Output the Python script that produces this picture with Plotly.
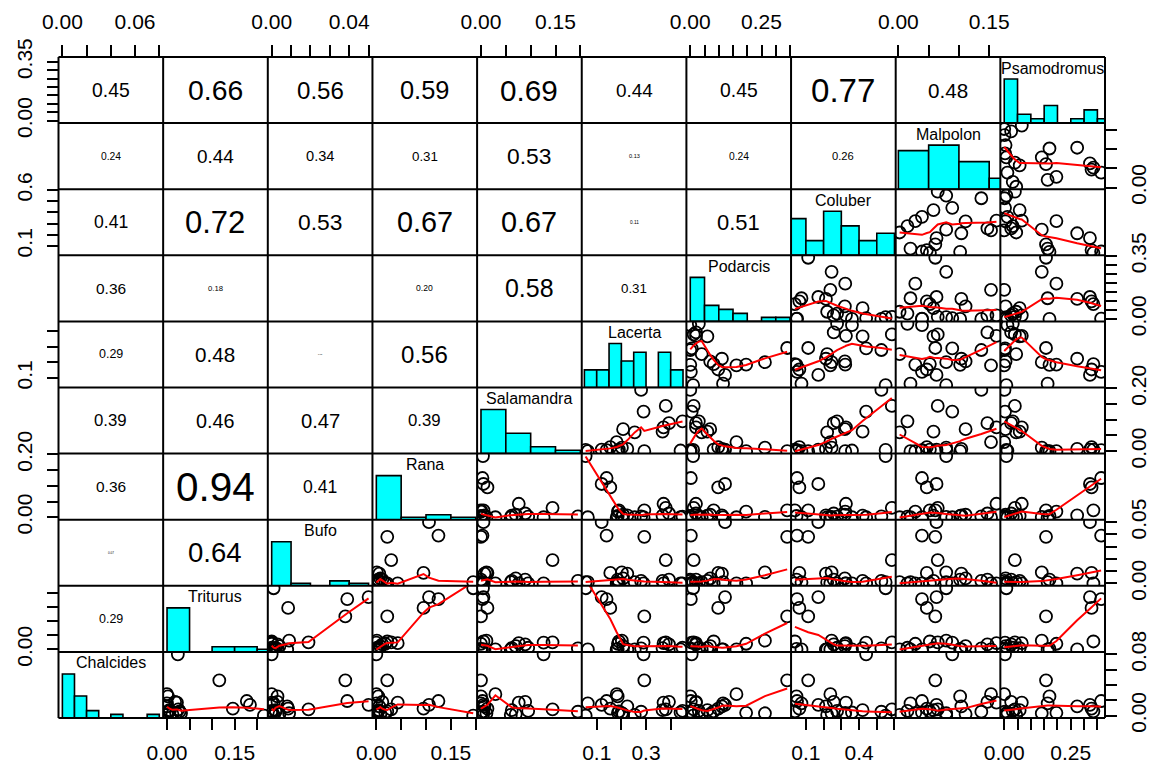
import numpy as np
import plotly.graph_objects as go

# ---------------- data (22 sites) ----------------
names = ["Chalcides", "Triturus", "Bufo", "Rana", "Salamandra",
         "Lacerta", "Podarcis", "Coluber", "Malpolon", "Psamodromus"]

chalcides = [0.028, 0.005, 0.080, 0.002, 0.000, 0.004, 0.018, 0.006, 0.008, 0.001, 0.007,
             0.017, 0.003, 0.046, 0.016, 0.025, 0.0035, 0.012, 0.014, 0.009, 0.0055, 0.019]
triturus = [0.000, 0.004, 0.024, 0.012, 0.215, 0.000, 0.018, 0.006, 0.025, 0.000, 0.005,
            0.022, 0.031, 0.116, 0.000, 0.002, 0.020, 0.000, 0.184, 0.146, 0.028, 0.177]
bufo = [0.000, 0.002, 0.000, 0.004, 0.001, 0.000, 0.003, 0.000, 0.019, 0.001, 0.002,
        0.000, 0.009, 0.038, 0.001, 0.003, 0.000, 0.008, 0.050, 0.0085, 0.000, 0.039]
rana = [0.000, 0.003, 0.000, 0.008, 0.195, 0.000, 0.012, 0.002, 0.030, 0.000, 0.005,
        0.043, 0.001, 0.022, 0.000, 0.004, 0.018, 0.006, 0.106, 0.095, 0.022, 0.125]
salamandra = [0.029, 0.195, 0.126, 0.070, 0.004, 0.002, 0.089, 0.095, 0.144, 0.060, 0.062,
              0.076, 0.011, 0.000, 0.000, 0.000, 0.000, 0.007, 0.005, 0.013, 0.005, 0.003]
lacerta = [0.181, 0.280, 0.290, 0.207, 0.055, 0.440, 0.393, 0.448, 0.380, 0.254, 0.367,
           0.371, 0.202, 0.293, 0.064, 0.185, 0.186, 0.224, 0.120, 0.155, 0.190, 0.140]
podarcis = [0.162, 0.000, 0.005, 0.070, 0.010, 0.000, 0.020, 0.030, 0.012, 0.040, 0.060,
            0.020, 0.262, 0.340, 0.115, 0.000, 0.196, 0.111, 0.122, 0.098, 0.082, 0.002]
coluber = [0.238, 0.526, 0.440, 0.320, 0.550, 0.360, 0.257, 0.276, 0.585, 0.220, 0.420,
           0.326, 0.245, 0.113, 0.075, 0.047, 0.322, 0.213, 0.170, 0.063, 0.038, 0.050]
malpolon = [0.153, 0.137, 0.089, 0.111, 0.079, 0.039, 0.147, 0.015, 0.065, 0.002, 0.058,
            0.162, 0.079, 0.061, 0.020, 0.102, 0.028, 0.104, 0.063, 0.047, 0.052, 0.039]
psamodromus = [0.000, 0.001, 0.003, 0.005, 0.008, 0.012, 0.026, 0.032, 0.040, 0.045, 0.058,
               0.066, 0.141, 0.157, 0.163, 0.170, 0.196, 0.274, 0.322, 0.328, 0.335, 0.364]

variables = [chalcides, triturus, bufo, rana, salamandra,
             lacerta, podarcis, coluber, malpolon, psamodromus]

# histogram break points for the diagonal panels
hist_breaks = [
    [0.00, 0.01, 0.02, 0.03, 0.04, 0.05, 0.06, 0.07, 0.08],
    [0.00, 0.05, 0.10, 0.15, 0.20, 0.25],
    [0.00, 0.01, 0.02, 0.03, 0.04, 0.05],
    [0.00, 0.05, 0.10, 0.15, 0.20],
    [0.00, 0.05, 0.10, 0.15, 0.20],
    [0.05, 0.10, 0.15, 0.20, 0.25, 0.30, 0.35, 0.40, 0.45],
    [0.00, 0.05, 0.10, 0.15, 0.20, 0.25, 0.30, 0.35],
    [0.00, 0.10, 0.20, 0.30, 0.40, 0.50, 0.60],
    [0.00, 0.05, 0.10, 0.15, 0.20],
    [0.00, 0.05, 0.10, 0.15, 0.20, 0.25, 0.30, 0.35, 0.40],
]

# correlation texts shown in the upper-left triangle (rows top -> bottom)
cor_rows = [
    [0.45, 0.66, 0.56, 0.59, 0.69, 0.44, 0.45, 0.77, 0.48],
    [0.24, 0.44, 0.34, 0.31, 0.53, 0.13, 0.24, 0.26],
    [0.41, 0.72, 0.53, 0.67, 0.67, 0.11, 0.51],
    [0.36, 0.18, 0.01, 0.20, 0.58, 0.31],
    [0.29, 0.48, 0.05, 0.56, 0.01],
    [0.39, 0.46, 0.47, 0.39],
    [0.36, 0.94, 0.41],
    [0.07, 0.64],
    [0.29],
]

# axis tick steps and the tick labels that are printed
tick_steps = [0.02, 0.05, 0.01, 0.05, 0.05, 0.1, 0.05, 0.1, 0.05, 0.05]
top_labels = {1: ["0.00", "0.06"], 3: ["0.00", "0.04"], 5: ["0.00", "0.15"],
              7: ["0.00", "0.25"], 9: ["0.00", "0.15"]}
bottom_labels = {2: ["0.00", "0.15"], 4: ["0.00", "0.15"], 6: ["0.1", "0.3"],
                 8: ["0.1", "0.4"], 10: ["0.00", "0.25"]}
left_labels = {1: ["0.00", "0.35"], 3: ["0.1", "0.6"], 5: ["0.1"],
               7: ["0.00", "0.20"], 9: ["0.00"]}
right_labels = {2: ["0.00"], 4: ["0.00", "0.35"], 6: ["0.00", "0.20"],
                8: ["0.00", "0.05"], 10: ["0.00", "0.08"]}


# ---------------- helpers ----------------
def r_lowess(x, y, f=2 / 3, it=3):
    """Port of R's clowess (stats::lowess)."""
    x = np.asarray(x, float)
    y = np.asarray(y, float)
    o = np.argsort(x, kind="mergesort")
    x = x[o]
    y = y[o]
    n = len(x)
    ns = max(min(int(f * n + 1e-7), n), 2)
    delta = 0.01 * (x[-1] - x[0])
    ys = np.zeros(n)
    rw = np.ones(n)
    rng_x = x[-1] - x[0]

    def lowest(xs, nleft, nright, userw):
        h = max(xs - x[nleft], x[nright] - xs)
        h9 = 0.999 * h
        h1 = 0.001 * h
        w = np.zeros(n)
        a = 0.0
        j = nleft
        while j < n:
            r = abs(x[j] - xs)
            if r <= h9:
                if r <= h1:
                    w[j] = 1.0
                else:
                    w[j] = (1 - (r / h) ** 3) ** 3
                if userw:
                    w[j] *= rw[j]
                a += w[j]
            elif x[j] > xs:
                break
            j += 1
        nrt = j - 1
        if a <= 0:
            return None
        sl = slice(nleft, nrt + 1)
        w[sl] /= a
        if h > 0:
            a = np.sum(w[sl] * x[sl])
            b = xs - a
            c = np.sum(w[sl] * (x[sl] - a) ** 2)
            if np.sqrt(c) > 0.001 * rng_x:
                b /= c
                w[sl] *= (b * (x[sl] - a) + 1.0)
        return float(np.sum(w[sl] * y[sl]))

    for iteration in range(it + 1):
        nleft, nright, last, i = 0, ns - 1, -1, 0
        while True:
            if nright < n - 1:
                d1 = x[i] - x[nleft]
                d2 = x[nright + 1] - x[i]
                if d1 > d2:
                    nleft += 1
                    nright += 1
                    continue
            val = lowest(x[i], nleft, nright, iteration > 0)
            ys[i] = y[i] if val is None else val
            if last < i - 1:
                denom = x[i] - x[last]
                for j in range(last + 1, i):
                    alpha = (x[j] - x[last]) / denom
                    ys[j] = alpha * ys[i] + (1 - alpha) * ys[last]
            last = i
            cut = x[last] + delta
            i = last + 1
            while i < n:
                if x[i] > cut:
                    break
                if x[i] == x[last]:
                    ys[i] = ys[last]
                    last = i
                i += 1
            i = max(last + 1, i - 1)
            if last >= n - 1:
                break
        res = y - ys
        if iteration >= it:
            break
        ar = np.abs(res)
        sc = np.sum(ar) / n
        s = np.sort(ar)
        m1 = n // 2
        cmad = 3 * (s[m1 - 1] + s[m1]) if n % 2 == 0 else 6 * s[m1]
        if cmad < 1e-7 * sc:
            break
        c9, c1 = 0.999 * cmad, 0.001 * cmad
        rw = np.where(ar <= c1, 1.0, np.where(ar <= c9, (1 - (ar / cmad) ** 2) ** 2, 0.0))
    return x, ys


def data_range(v):
    lo, hi = float(min(v)), float(max(v))
    d = hi - lo
    return [lo - 0.04 * d, hi + 0.04 * d]


def make_ticks(vi, labels):
    lo, hi = data_range(variables[vi])
    step = tick_steps[vi]
    k0 = int(np.ceil(lo / step - 1e-9))
    k1 = int(np.floor(hi / step + 1e-9))
    vals = [round(k * step, 6) for k in range(k0, k1 + 1)]
    text = []
    for v in vals:
        t = ""
        for lab in labels:
            if abs(float(lab) - v) < 1e-9:
                t = lab
        text.append(t)
    return vals, text


# ---------------- layout geometry ----------------
W, H = 1156, 769
GX0, GX1 = 58.5, 1105.0
GY0, GY1 = 57.0, 718.0
CW = (GX1 - GX0) / 10
CH = (GY1 - GY0) / 10
FONT = "Liberation Sans, Arial, Helvetica, sans-serif"
TICK_FONT = dict(family=FONT, size=21, color="black")

fig = go.Figure()
layout = dict(width=W, height=H, margin=dict(l=0, r=0, t=0, b=0),
              paper_bgcolor="white", plot_bgcolor="white", showlegend=False)
annotations = []
shapes = []

for r in range(1, 11):
    for c in range(1, 11):
        k = (r - 1) * 10 + c
        xs = "" if k == 1 else str(k)
        xv = c - 1
        yv = 10 - r
        xdom = [(GX0 + (c - 1) * CW) / W, (GX0 + c * CW) / W]
        ydom = [1 - (GY0 + r * CH) / H, 1 - (GY0 + (r - 1) * CH) / H]
        diag = (r + c == 11)
        xr = data_range(variables[xv])
        yr = [0, 1.5] if diag else data_range(variables[yv])

        xa = dict(domain=xdom, range=xr, anchor="y" + xs, showgrid=False, zeroline=False,
                  showline=False, ticks="", showticklabels=False, automargin=False,
                  fixedrange=True)
        ya = dict(domain=ydom, range=yr, anchor="x" + xs, showgrid=False, zeroline=False,
                  showline=False, ticks="", showticklabels=False, automargin=False,
                  fixedrange=True)

        common_tick = dict(ticks="outside", ticklen=11, tickwidth=2, tickcolor="black",
                           showticklabels=True, tickfont=TICK_FONT, tickmode="array")
        if r == 1 and c in top_labels:
            tv, tt = make_ticks(xv, top_labels[c])
            xa.update(common_tick, side="top", tickvals=tv, ticktext=tt,
                      ticklabelstandoff=8)
        if r == 10 and c in bottom_labels:
            tv, tt = make_ticks(xv, bottom_labels[c])
            xa.update(common_tick, side="bottom", tickvals=tv, ticktext=tt,
                      ticklabelstandoff=5)
        if c == 1 and r in left_labels:
            tv, tt = make_ticks(yv, left_labels[r])
            ya.update(common_tick, side="left", tickvals=tv, ticktext=tt,
                      tickangle=-90, ticklabelstandoff=6)
        if c == 10 and r in right_labels:
            tv, tt = make_ticks(yv, right_labels[r])
            ya.update(common_tick, side="right", tickvals=tv, ticktext=tt,
                      tickangle=-90, ticklabelstandoff=4)

        layout["xaxis" + xs] = xa
        layout["yaxis" + xs] = ya

        if diag:
            br = np.array(hist_breaks[xv])
            counts, _ = np.histogram(variables[xv], bins=br)
            heights = counts / counts.max()
            fig.add_trace(go.Bar(
                x=(br[:-1] + br[1:]) / 2, y=heights, width=np.diff(br),
                marker=dict(color="#00FFFF", line=dict(color="black", width=1.6)),
                xaxis="x" + xs, yaxis="y" + xs, hoverinfo="skip"))
            annotations.append(dict(
                text=names[xv], x=0.5, y=0.833, xref="x" + xs + " domain",
                yref="y" + xs + " domain", showarrow=False,
                font=dict(family=FONT, size=16, color="black"),
                xanchor="center", yanchor="middle"))
        elif r + c > 11:
            fig.add_trace(go.Scatter(
                x=variables[xv], y=variables[yv], mode="markers",
                marker=dict(symbol="circle-open", size=12, color="black",
                            line=dict(width=1.8, color="black")),
                xaxis="x" + xs, yaxis="y" + xs, hoverinfo="skip"))
            lx, ly = r_lowess(variables[xv], variables[yv])
            fig.add_trace(go.Scatter(
                x=lx, y=ly, mode="lines", line=dict(color="red", width=2),
                xaxis="x" + xs, yaxis="y" + xs, hoverinfo="skip"))
        else:
            # empty trace so the subplot (and its axes) gets created
            fig.add_trace(go.Scatter(x=[], y=[], mode="markers",
                                     xaxis="x" + xs, yaxis="y" + xs, hoverinfo="skip"))
            val = cor_rows[r - 1][c - 1]
            size = 0.8 * CW / 1.946 * val
            if size >= 1:
                annotations.append(dict(
                    text=f"{val:.2f}", x=(xdom[0] + xdom[1]) / 2,
                    y=(ydom[0] + ydom[1]) / 2, xref="paper", yref="paper",
                    xanchor="center", yanchor="middle", showarrow=False,
                    font=dict(family=FONT, size=size, color="black")))

# panel frames
for i in range(11):
    xp = (GX0 + i * CW) / W
    shapes.append(dict(type="line", xref="paper", yref="paper", x0=xp, x1=xp,
                       y0=1 - GY1 / H, y1=1 - GY0 / H, line=dict(color="black", width=2)))
    yp = 1 - (GY0 + i * CH) / H
    shapes.append(dict(type="line", xref="paper", yref="paper", x0=GX0 / W, x1=GX1 / W,
                       y0=yp, y1=yp, line=dict(color="black", width=2)))

layout["annotations"] = annotations
layout["shapes"] = shapes
fig.update_layout(**layout)
fig.write_html("out.html", config={"displayModeBar": False})
